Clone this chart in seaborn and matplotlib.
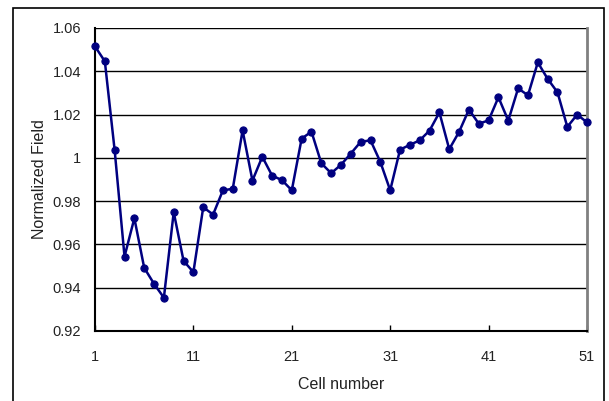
import seaborn as sns
import matplotlib.pyplot as plt
import matplotlib.patches as mpatches
import pandas as pd
import numpy as np

cells = list(range(1, 52))
field = [1.0515, 1.0446, 1.0034, 0.9544, 0.9721, 0.9492, 0.9418, 0.9354, 0.9749, 0.9524,
         0.9472, 0.9772, 0.9738, 0.9850, 0.9857, 1.0127, 0.9895, 1.0005, 0.9918, 0.9897,
         0.9850, 1.0089, 1.0121, 0.9975, 0.9929, 0.9968, 1.0020, 1.0074, 1.0081, 0.9981,
         0.9850, 1.0038, 1.0060, 1.0081, 1.0126, 1.0210, 1.0040, 1.0120, 1.0223, 1.0158,
         1.0173, 1.0280, 1.0172, 1.0321, 1.0289, 1.0441, 1.0365, 1.0303, 1.0143, 1.0200,
         1.0164]
xticks = [1, 11, 21, 31, 41, 51]
yticks = [0.92, 0.94, 0.96, 0.98, 1.00, 1.02, 1.04, 1.06]
yticklabels = ['0.92', '0.94', '0.96', '0.98', '1', '1.02', '1.04', '1.06']

df = pd.DataFrame({'Cell number': cells, 'Normalized Field': field})

sns.set_style('white')
plt.rcParams['font.family'] = ['Liberation Sans', 'DejaVu Sans']

fig = plt.figure(figsize=(6.09, 4.01), dpi=100)
ax = fig.add_axes([95 / 609, 70 / 401, 492 / 609, 303 / 401])

for y in yticks:
    ax.axhline(y, color='black', lw=1.0, zorder=1)

sns.lineplot(data=df, x='Cell number', y='Normalized Field', ax=ax, color='#000080',
             lw=1.8, marker='o', markersize=5.2, markeredgecolor='#000080', zorder=3,
             clip_on=False)

ax.set_xlim(1, 51)
ax.set_ylim(0.92, 1.06)
ax.set_xticks(xticks)
ax.set_xticklabels([str(t) for t in xticks], fontsize=10.5, color='#222222')
ax.set_yticks(yticks)
ax.set_yticklabels(yticklabels, fontsize=10.5, color='#222222')
ax.tick_params(axis='x', direction='in', length=4, width=1, color='black', pad=14, bottom=True)
ax.tick_params(axis='y', direction='out', length=0, pad=10, left=True)
ax.set_xlabel('Cell number', fontsize=11.5, labelpad=9, color='#222222')
ax.set_ylabel('Normalized Field', fontsize=11.5, labelpad=4, color='#222222')

ax.spines['left'].set_color('black')
ax.spines['bottom'].set_color('black')
ax.spines['left'].set_linewidth(1.5)
ax.spines['bottom'].set_linewidth(1.5)
ax.spines['top'].set_visible(False)
ax.spines['right'].set_color('#808080')
ax.spines['right'].set_linewidth(2)

border = mpatches.Rectangle((13 / 609, -0.05), (604 - 13) / 609, (401 - 8) / 401 + 0.05,
                            transform=fig.transFigure, fill=False, edgecolor='black', lw=1.2)
fig.patches.append(border)

fig.savefig('out.png', dpi=100)
